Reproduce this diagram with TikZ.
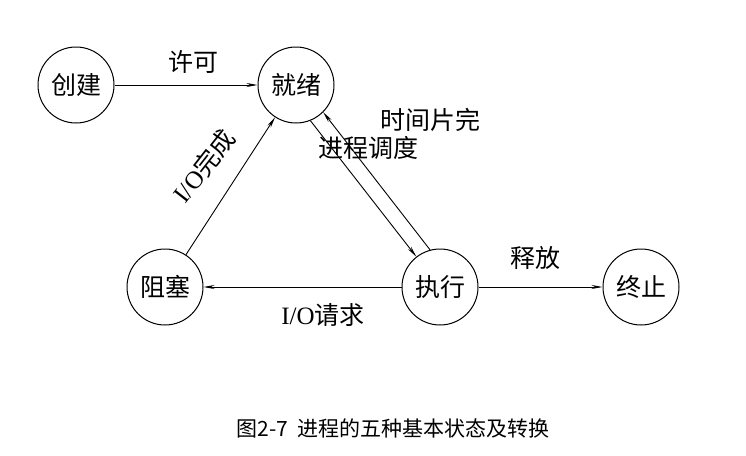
\documentclass[tikz,border=0pt]{standalone}
\usepackage{fontspec}
\setmainfont{Liberation Serif}
\newfontfamily\cjk{Noto Sans CJK SC}
\usetikzlibrary{arrows.meta}
\begin{document}
\begin{tikzpicture}[x=1pt,y=-1pt,
 st/.style={circle,draw,line width=1pt,minimum size=76pt,inner sep=0pt,font=\cjk\fontsize{25}{25}\selectfont},
 ar/.style={line width=0.9pt,-{Stealth[length=11pt,width=4pt]}},
 lb/.style={font=\fontsize{25}{25}\selectfont,inner sep=1pt}]
\useasboundingbox (0,0) rectangle (746,455);
\node[st] (cj) at (76,85) {创建};
\node[st] (jx) at (296,85) {就绪};
\node[st] (zs) at (165,287) {阻塞};
\node[st] (zx) at (440,287) {执行};
\node[st] (zz) at (641,287) {终止};
\draw[ar] (cj) -- (jx);
\draw[ar] (zs) -- (jx);
\draw[ar] (zx) -- (zs);
\draw[ar] (zx) -- (zz);
\draw[ar] (jx.-68) -- (zx.128);
\draw[ar] (zx.105) -- (jx.-45);
\node[lb] (l1) at (193,62) {\cjk 许可};
\node[lb,rotate=52] (l2) at (204,166) {I/O{\cjk 完成}};
\node[lb] (l3) at (430,120) {\cjk 时间片完};
\node[lb] (l4) at (368,148) {\cjk 进程调度};
\node[lb] (l5) at (535,258) {\cjk 释放};
\node[lb] (l6) at (323,315) {I/O{\cjk 请求}};
\node[font=\fontsize{21}{21}\selectfont] (cap) at (393,428) {\cjk 图2-7\ \ 进程的五种基本状态及转换};
\end{tikzpicture}
\end{document}
